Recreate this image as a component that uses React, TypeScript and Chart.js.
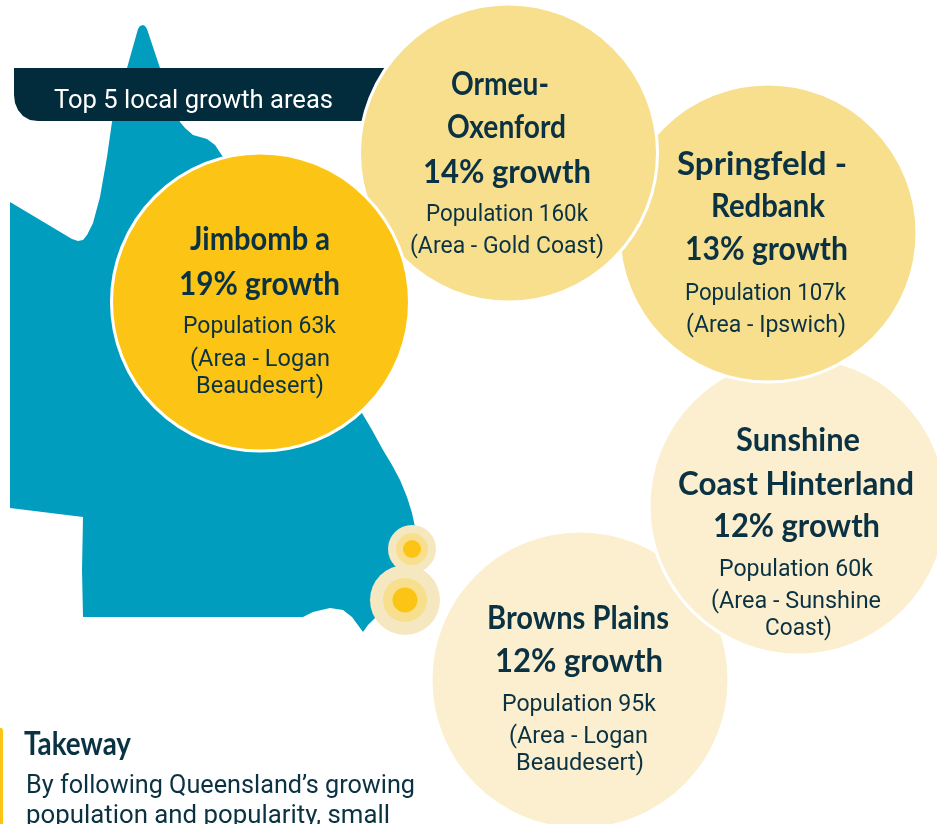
import React, { useEffect, useRef } from "react";
import { Chart, registerables } from "chart.js";

Chart.register(...registerables);

const W = 937;
const H = 824;

const INK = "#0A3243";
const BANNER = "#022B3C";
const MAP = "#019DBF";
const GOLD = "#FCC515";
const SAND = "#F8DF8E";
const CREAM = "#FCEFCF";
const PALE = "#F5E8C0";

// Circles, painted back to front
const areaCircles = [
  { x: 580, y: 680, r: 149, color: CREAM },
  { x: 798, y: 506, r: 149, color: CREAM },
  { x: 768, y: 233, r: 149, color: SAND },
  { x: 508.5, y: 153, r: 149, color: SAND },
  { x: 260.5, y: 302, r: 149, color: GOLD },
];

const locatorOuter = [
  { x: 412, y: 549, r: 24 },
  { x: 405, y: 600, r: 35 },
];
const locatorMiddle = [
  { x: 412, y: 549, r: 16 },
  { x: 405, y: 600, r: 22 },
];
const locatorInner = [
  { x: 412, y: 549, r: 9 },
  { x: 405, y: 600, r: 12.5 },
];

const mapOutline = [
  [10, 202], [72, 239], [78, 241], [83, 240], [87, 235], [93, 223], [100, 197], [107, 157], [112, 122], [127, 68],
  [138, 29], [140, 26], [143, 25], [145, 26], [147, 29], [160, 68], [180, 122], [185, 128], [193, 135], [207, 139],
  [215, 145], [223, 157], [300, 300], [362, 413], [372, 430], [383, 450], [392, 465], [400, 480], [407, 497], [412, 513],
  [415, 527], [405, 560], [390, 600], [376, 617], [368, 625], [363, 632], [352, 617], [343, 610], [330, 608], [313, 612],
  [303, 617], [83, 617], [82, 570], [83, 517], [10, 508],
].map(([x, y]) => ({ x, y }));

const bannerOutline = [
  [14, 68], [400, 68], [400, 121], [38, 121], [30, 120], [23, 116], [18, 110], [15, 103], [14, 95],
].map(([x, y]) => ({ x, y }));

const accentOutline = [
  [0, 728], [2, 728], [3, 730], [3, 824], [0, 824],
].map(([x, y]) => ({ x, y }));

// Text
const bannerLabel = "Top 5 local growth areas";
const takeawayTitle = "Takeway";
const takeawayBody = ["By following Queensland’s growing", "population and popularity, small"];

const jimbombaTitle = ["Jimbomb a", "19% growth"];
const jimbombaBody = ["Population 63k", "(Area - Logan", "Beaudesert)"];
const ormeauTitle = ["Ormeu-", "Oxenford", "14% growth"];
const ormeauBody = ["Population 160k", "(Area - Gold Coast)"];
const springfieldTitle = ["Springfeld -", "Redbank", "13% growth"];
const springfieldBody = ["Population 107k", "(Area - Ipswich)"];
const sunshineTitle = ["Sunshine", "Coast Hinterland", "12% growth"];
const sunshineBody = ["Population 60k", "(Area - Sunshine", "Coast)"];
const brownsTitle = ["Browns Plains", "12% growth"];
const brownsBody = ["Population 95k", "(Area - Logan", "Beaudesert)"];

type Spec = { t: string; l: number; r: number; y: number; font: string; color: string };
const HAND = "700 32px Lato";
const BODY = "400 23.5px Roboto";

const place = (lines: string[], boxes: number[][], font: string, color = INK): Spec[] =>
  lines.map((t, i) => ({ t, l: boxes[i][0], r: boxes[i][1], y: boxes[i][2], font, color }));

const textSpecs: Spec[] = [
  ...place([bannerLabel], [[54, 333, 108]], "400 25px Roboto", "#FFFFFF"),
  ...place(jimbombaTitle, [[190, 330, 250], [179, 340, 295]], HAND),
  ...place(jimbombaBody, [[183, 336, 333], [190, 330, 366], [196, 324, 393]], BODY),
  ...place(ormeauTitle, [[451, 549, 95], [447, 566, 138], [423, 591, 183]], HAND),
  ...place(ormeauBody, [[426, 588, 221], [410, 604, 253]], BODY),
  ...place(springfieldTitle, [[677, 847, 175], [711, 825, 217], [685, 848, 260]], HAND),
  ...place(springfieldBody, [[685, 846, 300], [686, 846, 332]], BODY),
  ...place(sunshineTitle, [[736, 860, 451], [678, 914, 495], [713, 880, 537]], HAND),
  ...place(sunshineBody, [[719, 873, 576], [711, 881, 608], [765, 832, 635]], BODY),
  ...place(brownsTitle, [[487, 669, 629], [495, 663, 672]], HAND),
  ...place(brownsBody, [[502, 656, 711], [509, 648, 743], [516, 644, 770]], BODY),
  ...place([takeawayTitle], [[24, 131, 755]], HAND),
  ...place(takeawayBody, [[26, 415, 793], [26, 390, 823]], "400 25.5px Roboto"),
];

const textPlugin = {
  id: "infographicText",
  afterDatasetsDraw(chart: any) {
    const { ctx, scales } = chart;
    ctx.save();
    ctx.textAlign = "left";
    ctx.textBaseline = "alphabetic";
    for (const s of textSpecs) {
      ctx.font = s.font;
      ctx.fillStyle = s.color;
      const natural = ctx.measureText(s.t).width;
      const left = scales.x.getPixelForValue(s.l);
      const right = scales.x.getPixelForValue(s.r);
      ctx.save();
      ctx.translate(left, scales.y.getPixelForValue(s.y));
      ctx.scale((right - left) / natural, 1);
      ctx.fillText(s.t, 0, 0);
      ctx.restore();
    }
    ctx.restore();
  },
};

const shape = (data: { x: number; y: number }[], color: string, order: number) => ({
  type: "scatter" as const,
  data,
  showLine: true,
  fill: "shape",
  backgroundColor: color,
  borderColor: color,
  borderWidth: 0,
  pointRadius: 0,
  tension: 0,
  order,
  clip: false,
});

const bubbles = (data: any[], colors: string | string[], border: number, order: number) => ({
  type: "bubble" as const,
  data,
  backgroundColor: colors,
  borderColor: "#FFFFFF",
  borderWidth: border,
  hoverRadius: 0,
  order,
});

export default function App() {
  const ref = useRef<HTMLCanvasElement | null>(null);

  useEffect(() => {
    if (!ref.current) return;
    const chart = new Chart(ref.current, {
      data: {
        datasets: [
          shape(mapOutline, MAP, 10),
          shape(bannerOutline, BANNER, 9),
          shape(accentOutline, GOLD, 8),
          bubbles(locatorOuter, PALE, 0, 7),
          bubbles(locatorMiddle, SAND, 0, 6),
          bubbles(locatorInner, GOLD, 0, 5),
          bubbles(areaCircles, areaCircles.map((c) => c.color), 3, 4),
        ] as any,
      },
      options: {
        animation: false,
        responsive: false,
        layout: { padding: 0, autoPadding: false },
        events: [],
        plugins: { legend: { display: false }, title: { display: false }, tooltip: { enabled: false } },
        scales: {
          x: { type: "linear", min: 0, max: W, display: false },
          y: { type: "linear", min: 0, max: H, reverse: true, display: false },
        },
      },
      plugins: [textPlugin],
    } as any);
    return () => chart.destroy();
  }, []);

  return (
    <canvas
      ref={ref}
      width={W}
      height={H}
      style={{ position: "fixed", left: 0, top: 0, width: W, height: H, display: "block" }}
    />
  );
}
